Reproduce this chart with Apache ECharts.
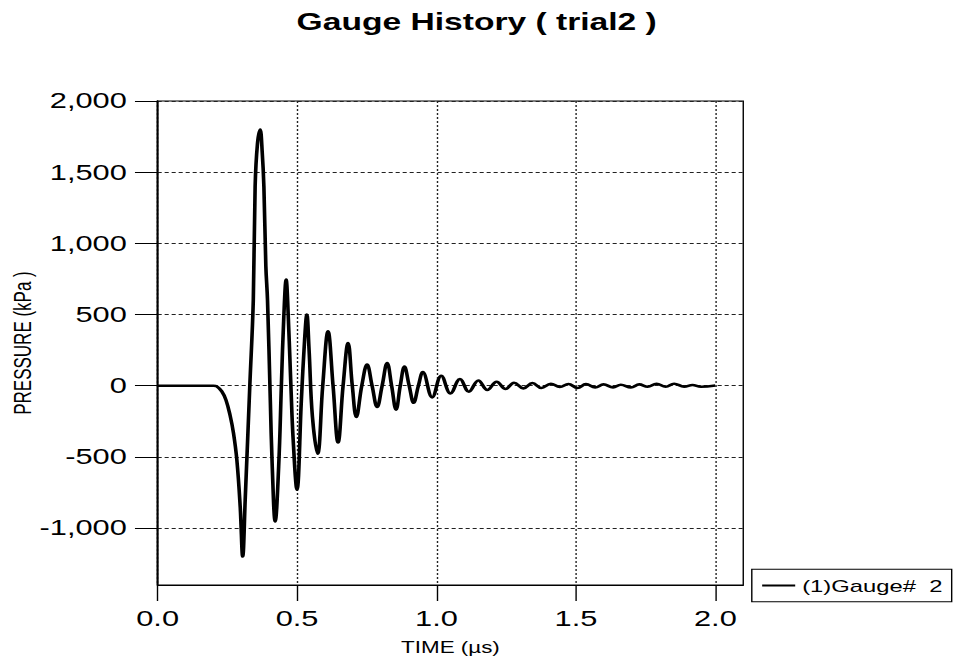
<!DOCTYPE html>
<html><head><meta charset="utf-8">
<script src="https://cdn.jsdelivr.net/npm/echarts@6/dist/echarts.min.js"></script>
<style>
html,body{margin:0;padding:0;background:#fff;overflow:hidden;width:953px;height:665px;}
#main{width:680.7px;height:665px;transform:scaleX(1.4);transform-origin:0 0;}
</style></head><body><div id="main"></div>
<script>
// Data
const timeUs = [0, 0.1, 0.2, 0.212, 0.23, 0.245, 0.26, 0.272, 0.284, 0.296, 0.305,
  0.314, 0.3305, 0.343, 0.3496, 0.358, 0.3676,
  0.375, 0.381, 0.388, 0.394, 0.404, 0.411, 0.4215,
  0.434, 0.444, 0.4525, 0.461,
  0.466, 0.4775, 0.486, 0.4995,
  0.5155, 0.527, 0.535,
  0.543, 0.555, 0.5735,
  0.592, 0.611, 0.629, 0.647, 0.665, 0.683, 0.698, 0.7125, 0.732, 0.751, 0.769, 0.787,
  0.805, 0.823, 0.839, 0.855, 0.87, 0.885, 0.902, 0.918, 0.935, 0.951,
  0.9845, 1.017, 1.05, 1.084, 1.116, 1.15, 1.182, 1.2156, 1.248, 1.278, 1.3115, 1.344,
  1.376, 1.41, 1.442, 1.473, 1.5055, 1.536, 1.569, 1.599, 1.633, 1.661, 1.697, 1.727,
  1.757, 1.789, 1.822, 1.852, 1.888, 1.918, 1.948, 2.0];
const pressureKPa = [0, 0, 0, -5, -40, -100, -210, -333, -520, -849, -1200,
  -800, 0, 600, 1400, 1700, 1800,
  1640, 1400, 840, 600, -100, -570, -954,
  -567, 19, 487, 745,
  605, 19, -380, -731,
  -98, 323, 499,
  253, -216, -478,
  0, 382, 0, -399, 0, 300, 0, -220, 0, 148, 0, -150,
  0, 160, 0, -168, 0, 134, 0, -120, 0, 96,
  -82, 70, -54, 47, -42, 37, -30, 28, -23, 21, -19, 19,
  -16, 14, -9, 12, -16, 12, -12, 9, -12, 7, -12, 9,
  -7, 14, -7, 14, -7, 5, -7, 2];
const xTickValues = [0, 0.5, 1.0, 1.5, 2.0];
const yTickValues = [-1000, -500, 0, 500, 1000, 1500, 2000];
const seriesName = '(1)Gauge#  2';
const titleText = 'Gauge History ( trial2 )';
const xAxisName = 'TIME (µs)';
const yAxisName = 'PRESSURE (kPa )';

const FONT = '"Liberation Sans", Arial, sans-serif';
const chart = echarts.init(document.getElementById('main'), null, {renderer: 'svg'});
chart.setOption({
  animation: false,
  backgroundColor: '#fff',
  textStyle: {fontFamily: FONT, color: '#000'},
  title: {
    text: titleText, left: 'center', top: 5,
    textStyle: {fontFamily: FONT, fontSize: 24, fontWeight: 'bold', color: '#000'}
  },
  grid: {left: 112.6, top: 101, width: 418.3, height: 484, show: true,
    outerBoundsMode: 'none', containLabel: false,
    borderColor: '#000', borderWidth: 1, backgroundColor: 'transparent'},
  legend: {
    data: [{name: seriesName, icon: 'rect'}], left: 537, top: 569.3,
    padding: [7.7, 6.6, 7.7, 7.4], itemWidth: 23.6, itemHeight: 2, itemGap: 0,
    borderColor: '#000', borderWidth: 1,
    itemStyle: {color: '#000', borderWidth: 0},
    textStyle: {fontFamily: FONT, fontSize: 17, color: '#000'}
  },
  xAxis: {
    type: 'value', min: 0, max: 2.1,
    name: xAxisName, nameLocation: 'middle', nameGap: 54, nameMoveOverlap: false,
    nameTextStyle: {fontFamily: FONT, fontSize: 16, color: '#000'},
    axisLine: {show: true, onZero: false, lineStyle: {color: '#000', width: 1}},
    axisTick: {show: true, length: 16, customValues: xTickValues, lineStyle: {color: '#000', width: 1}},
    axisLabel: {customValues: xTickValues, margin: 23, fontSize: 22, color: '#000', fontFamily: FONT,
      formatter: v => v.toFixed(1)},
    splitLine: {show: true, lineStyle: {color: '#222', type: [2, 2], width: 1}}
  },
  yAxis: {
    type: 'value', min: -1400, max: 2000,
    name: yAxisName, nameLocation: 'middle', nameGap: 88, nameRotate: 90, nameMoveOverlap: false,
    nameTextStyle: {fontFamily: FONT, fontSize: 17, color: '#000'},
    axisLine: {show: true, onZero: false, lineStyle: {color: '#000', width: 1.4}},
    axisTick: {show: true, length: 16.2, customValues: yTickValues, lineStyle: {color: '#000', width: 1}},
    axisLabel: {customValues: yTickValues, margin: 22, fontSize: 22, color: '#000', fontFamily: FONT,
      formatter: v => v.toLocaleString('en-US')},
    splitLine: {show: true, lineStyle: {color: '#222', type: [2.9, 2.1], width: 1}}
  },
  series: [{
    name: seriesName, type: 'line',
    data: timeUs.map((t, i) => [t, pressureKPa[i]]),
    showSymbol: false, symbol: 'none', smooth: 0.4,
    lineStyle: {color: '#000', width: 2.6}, itemStyle: {color: '#000'}
  }]
});
</script>
</body></html>
